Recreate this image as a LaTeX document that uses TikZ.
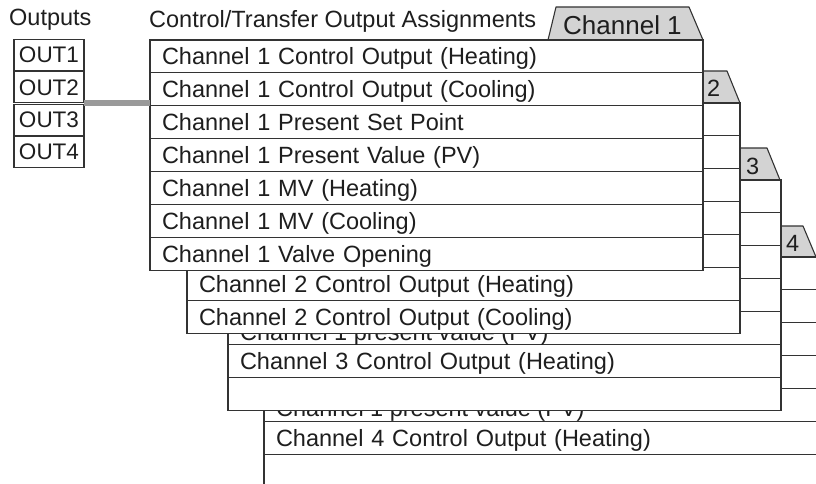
\documentclass[tikz,border=0pt]{standalone}
\usepackage{fontspec}
\setmainfont{Liberation Sans}
\usepackage{xcolor}
\usepackage{tikz}
\usetikzlibrary{positioning}

\definecolor{linec}{HTML}{333333}
\definecolor{tabfill}{HTML}{D3D3D3}
\definecolor{linkgray}{HTML}{9A9A9A}
\definecolor{txt}{HTML}{1E1E1E}

\begin{document}
\begin{tikzpicture}[
  x=1pt, y=1pt,
  font=\fontsize{23.5}{28}\selectfont,
  text=txt,
  row/.style={rectangle, draw=linec, fill=white, line width=1.1pt, outer sep=0pt, inner xsep=12pt, inner ysep=0pt, text width=529pt, align=left, minimum height=32.9pt, text height=17pt, text depth=0pt},
  wide row/.style={row, text width=560pt},
  tab/.style={draw=linec, fill=tabfill, line width=1.1pt, line join=round},
  tabnum/.style={anchor=base west, inner sep=0pt},
  hidden/.style={anchor=base west, inner sep=0pt},
  outbox/.style={rectangle, draw=linec, fill=white, line width=1.1pt, outer sep=0pt, minimum width=70pt, minimum height=31pt, inner sep=0pt, font=\fontsize{22.5}{26}\selectfont},
  link/.style={draw=linkgray, line width=6pt}
]
\useasboundingbox (0,0) rectangle (816,-484);
\clip (0,0) rectangle (816,-484);

% channel 4
\draw[tab] (781,-257) -- (781,-226) -- (803,-226) -- (816,-257) -- cycle;
\node[tabnum] (t4) at (786,-251) {4};
\node[wide row, anchor=north west] (c4r1) at (264,-257) {};
\node[wide row, below=0pt of c4r1] (c4r2) {};
\node[wide row, below=0pt of c4r2] (c4r3) {};
\node[wide row, below=0pt of c4r3] (c4r4) {};
\node[wide row, below=0pt of c4r4] (c4r5) {};
\node[wide row, below=0pt of c4r5] (c4r6) {Channel 4 Control Output (Heating)};
\node[wide row, below=0pt of c4r6] (c4r7) {};
\node[hidden] (c4pv) at ([xshift=12pt, yshift=5pt]c4r5.south west) {Channel 1 present value (PV)};

% channel 3
\draw[tab] (740,-180) -- (740,-148) -- (767,-148) -- (780,-180) -- cycle;
\node[tabnum] (t3) at (746,-174) {3};
\node[row, anchor=north west] (c3r1) at (228,-180) {};
\node[row, below=0pt of c3r1] (c3r2) {};
\node[row, below=0pt of c3r2] (c3r3) {};
\node[row, below=0pt of c3r3] (c3r4) {};
\node[row, below=0pt of c3r4] (c3r5) {};
\node[row, below=0pt of c3r5] (c3r6) {Channel 3 Control Output (Heating)};
\node[row, below=0pt of c3r6] (c3r7) {};
\node[hidden] (c3pv) at ([xshift=12pt, yshift=4.5pt]c3r5.south west) {Channel 1 present value (PV)};

% channel 2
\draw[tab] (703,-103) -- (703,-71) -- (727,-71) -- (740,-103) -- cycle;
\node[tabnum] (t2) at (707,-97) {2};
\node[row, anchor=north west] (c2r1) at (187,-103) {};
\node[row, below=0pt of c2r1] (c2r2) {};
\node[row, below=0pt of c2r2] (c2r3) {};
\node[row, below=0pt of c2r3] (c2r4) {};
\node[row, below=0pt of c2r4] (c2r5) {};
\node[row, below=0pt of c2r5] (c2r6) {Channel 2 Control Output (Heating)};
\node[row, below=0pt of c2r6] (c2r7) {Channel 2 Control Output (Cooling)};

% channel 1
\draw[tab] (548,-40) -- (556,-7) -- (689,-7) -- (703,-40) -- cycle;
\node[tabnum, font=\fontsize{26}{30}\selectfont] (t1) at (563,-35) {Channel 1};
\node[row, anchor=north west] (c1r1) at (150,-40) {Channel 1 Control Output (Heating)};
\node[row, below=0pt of c1r1] (c1r2) {Channel 1 Control Output (Cooling)};
\node[row, below=0pt of c1r2] (c1r3) {Channel 1 Present Set Point};
\node[row, below=0pt of c1r3] (c1r4) {Channel 1 Present Value (PV)};
\node[row, below=0pt of c1r4] (c1r5) {Channel 1 MV (Heating)};
\node[row, below=0pt of c1r5] (c1r6) {Channel 1 MV (Cooling)};
\node[row, below=0pt of c1r6] (c1r7) {Channel 1 Valve Opening};

% labels and outputs
\node[anchor=base west, inner sep=0pt] (outlbl) at (9,-26) {Outputs};
\node[anchor=base west, inner sep=0pt] (asgnlbl) at (149,-28) {Control/Transfer Output Assignments};
\node[outbox] (out1) at (49,-55) {OUT1};
\node[outbox, below=1.4pt of out1] (out2) {OUT2};
\node[outbox, below=1.4pt of out2] (out3) {OUT3};
\node[outbox, below=1.4pt of out3] (out4) {OUT4};
\draw[link] (out2.south east) -- (out2.south east -| c1r2.west);
\end{tikzpicture}
\end{document}
